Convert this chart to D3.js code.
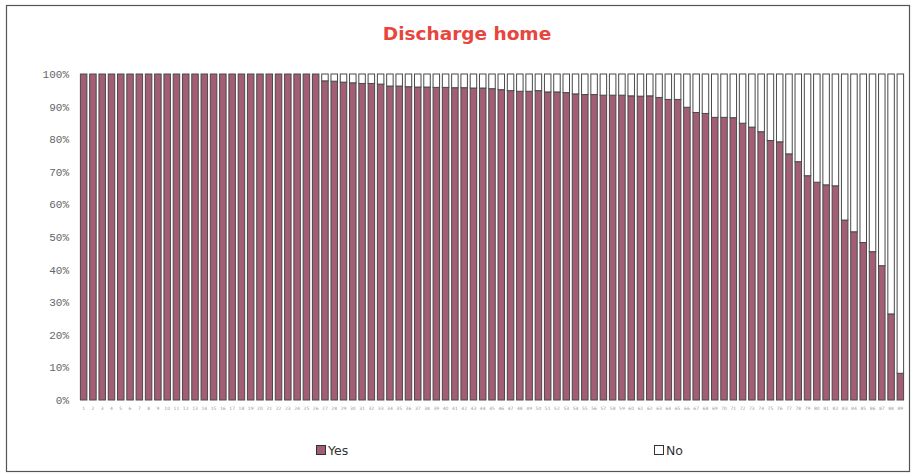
<!DOCTYPE html>
<html>
<head>
<meta charset="utf-8">
<script src="https://cdn.jsdelivr.net/npm/d3@7/dist/d3.min.js"></script>
<style>
  html, body { margin: 0; padding: 0; background: #fff; }
  svg { display: block; }
</style>
</head>
<body>
<svg id="chart" width="912" height="476"></svg>
<script>
const categories = d3.range(1, 90).map(String);
const yesValues = [
  100,100,100,100,100,100,100,100,100,100,
  100,100,100,100,100,100,100,100,100,100,
  100,100,100,100,100,100,97.9,97.8,97.5,97.3,
  97.1,97.1,96.9,96.3,96.3,96.1,96.0,96.0,95.9,95.9,
  95.8,95.8,95.7,95.7,95.5,95.2,94.9,94.7,94.7,94.9,
  94.5,94.5,94.3,93.9,93.7,93.7,93.5,93.5,93.5,93.3,
  93.2,93.3,92.8,92.2,92.2,89.8,88.2,87.9,86.7,86.7,
  86.6,84.9,83.7,82.3,79.6,79.2,75.5,73.1,68.8,66.8,
  66.0,65.7,55.2,51.6,48.3,45.5,41.2,26.4,8.2
];
const noValues = yesValues.map(v => 100 - v);
const yTicks = [0,10,20,30,40,50,60,70,80,90,100];
const seriesNames = ["Yes", "No"];
const seriesColors = ["#a35e76", "#ffffff"];
const titleText = "Discharge home";

const svg = d3.select("#chart");

// outer frame
svg.append("rect")
  .attr("x", 6.5).attr("y", 5.5).attr("width", 903).attr("height", 466)
  .attr("fill", "#fff").attr("stroke", "#555").attr("stroke-width", 1.2);

// title
svg.append("text")
  .attr("x", 467).attr("y", 40)
  .attr("text-anchor", "middle")
  .attr("font-family", "DejaVu Sans, Verdana, sans-serif")
  .attr("font-weight", "bold")
  .attr("font-size", 18.5)
  .attr("fill", "#e8453c")
  .text(titleText);

const x = d3.scaleBand().domain(categories).range([79, 905]).paddingInner(0.3).paddingOuter(0.15);
const y = d3.scaleLinear().domain([0, 100]).range([400, 74]);

const rows = categories.map((c, i) => ({cat: c, Yes: yesValues[i], No: noValues[i]}));
const stacked = d3.stack().keys(seriesNames)(rows);

// y axis
const yAxis = svg.append("g")
  .attr("transform", "translate(69,0)")
  .call(d3.axisLeft(y).tickValues(yTicks).tickSize(0).tickPadding(0).tickFormat(d => d + "%"));
yAxis.select(".domain").remove();
yAxis.selectAll("text")
  .attr("font-family", "Liberation Mono, Courier New, monospace")
  .attr("font-size", 11)
  .attr("fill", "#666");

// x axis labels
const xAxis = svg.append("g")
  .attr("transform", "translate(0,407)")
  .call(d3.axisBottom(x).tickSize(0).tickPadding(0));
xAxis.select(".domain").remove();
xAxis.selectAll("text")
  .attr("font-family", "DejaVu Sans, sans-serif")
  .attr("font-size", 4.5)
  .attr("fill", "#999");

// bars
svg.append("g").selectAll("g")
  .data(stacked).join("g")
  .attr("fill", (d, i) => seriesColors[i])
  .selectAll("rect")
  .data(d => d).join("rect")
  .attr("x", d => x(d.data.cat))
  .attr("width", x.bandwidth())
  .attr("y", d => y(d[1]))
  .attr("height", d => Math.max(0, y(d[0]) - y(d[1])))
  .attr("stroke", "#4a4a4a")
  .attr("stroke-width", 1);

// legend
const legendX = [316, 654];
const legend = svg.append("g").selectAll("g")
  .data(seriesNames).join("g")
  .attr("transform", (d, i) => `translate(${legendX[i]},445)`);
legend.append("rect")
  .attr("x", 0.5).attr("y", 0.5).attr("width", 9).attr("height", 9)
  .attr("fill", (d, i) => seriesColors[i])
  .attr("stroke", "#333").attr("stroke-width", 1);
legend.append("text")
  .attr("x", 12).attr("y", 10)
  .attr("font-family", "DejaVu Sans, Verdana, sans-serif")
  .attr("font-size", 12.5)
  .attr("fill", "#333")
  .text(d => d);
</script>
</body>
</html>
